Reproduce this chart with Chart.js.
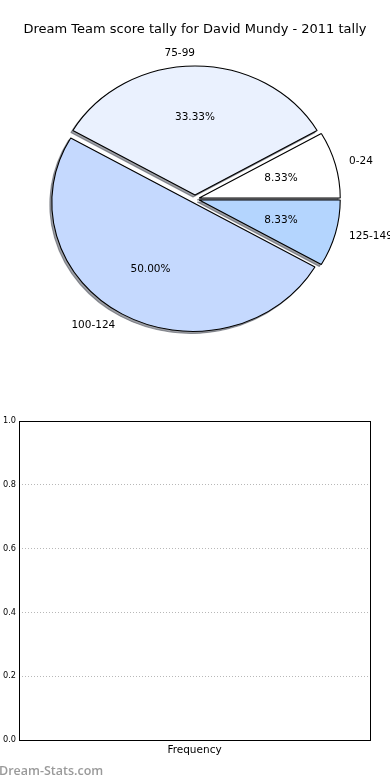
<!DOCTYPE html>
<html>
<head>
<meta charset="utf-8">
<script src="https://cdn.jsdelivr.net/npm/chart.js@4.4.0/dist/chart.umd.min.js"></script>
<style>
  html, body { margin: 0; padding: 0; background: #fff; }
  body { width: 390px; height: 780px; position: relative; overflow: hidden; }
  #pieBox { position: absolute; left: 0; top: 0; width: 390px; height: 400px; }
  #barBox { position: absolute; left: 0; top: 400px; width: 390px; height: 380px; }
  #mark { position: absolute; left: -1px; top: 762px; font-family: "Open Sans", sans-serif; font-weight: 600; font-size: 12.5px; color: #9a9a9a; }
</style>
</head>
<body>
<div id="pieBox"><canvas id="pie"></canvas></div>
<div id="barBox"><canvas id="bar"></canvas></div>
<div id="mark">Dream-Stats.com</div>
<script>
/* score ranges and how many games fell in each one */
var scoreRanges = ["0-24", "75-99", "100-124", "125-149"];
var scoreCounts = [1, 4, 6, 1];
var sliceColors = ["#ffffff", "#eaf1fe", "#c5d9fe", "#b4d5fe"];

/* the frequency plot underneath is empty */
var freqLabels = [];
var freqValues = [];
var freqTicks = [0, 0.2, 0.4, 0.6, 0.8, 1.0];

var FONT = "'DejaVu Sans', sans-serif";
var RX = 141, RY = 129;   // pie is stretched, axes were not square
var EXPLODE = 4;           // every slice pushed out a little
var SHADOW = "rgba(60,64,75,0.5)";

/* chart.js goes clockwise from the top, the original went anticlockwise from 3 o'clock */
var pieLabels = scoreRanges.slice().reverse();
var pieData = scoreCounts.slice().reverse();
var pieColors = sliceColors.slice().reverse();

function stretch(ctx, chart) {
    var a = chart.chartArea;
    var cx = (a.left + a.right) / 2, cy = (a.top + a.bottom) / 2;
    ctx.translate(cx, cy);
    ctx.scale(RX / RY, 1);
    ctx.translate(-cx, -cy);
}

/* percent inside, range name outside */
function drawPieLabels(chart) {
    var ctx = chart.ctx, a = chart.chartArea;
    var cx = (a.left + a.right) / 2;
    var sx = RX / RY;
    var total = pieData.reduce(function (s, v) { return s + v; }, 0);
    var arcs = chart.getDatasetMeta(0).data;
    ctx.save();
    ctx.fillStyle = "#000";
    ctx.font = "10.5px " + FONT;
    ctx.textBaseline = "middle";
    arcs.forEach(function (arc, i) {
        var mid = (arc.startAngle + arc.endAngle) / 2;
        var c = Math.cos(mid), s = Math.sin(mid);
        var r = arc.outerRadius;
        ctx.textAlign = c > 1e-6 ? "left" : "right";
        ctx.fillText(pieLabels[i], cx + (arc.x - cx + c * r * 1.1) * sx, arc.y + s * r * 1.1);
        ctx.textAlign = "center";
        ctx.fillText((pieData[i] / total * 100).toFixed(2) + "%", cx + (arc.x - cx + c * r * 0.6) * sx, arc.y + s * r * 0.6);
    });
    ctx.restore();
}

var piePlugin = {
    id: "explodedPie",
    afterDatasetsUpdate: function (chart) {
        chart.getDatasetMeta(0).data.forEach(function (arc) {
            var mid = (arc.startAngle + arc.endAngle) / 2;
            arc.x += Math.cos(mid) * EXPLODE;
            arc.y += Math.sin(mid) * EXPLODE;
        });
    },
    beforeDatasetsDraw: function (chart) {
        var ctx = chart.ctx;
        /* shadow pass: same wedges in flat grey, shifted down-left */
        ctx.save();
        ctx.translate(-2, 2);
        stretch(ctx, chart);
        chart.getDatasetMeta(0).data.forEach(function (arc) {
            var keep = arc.options;
            arc.options = Object.assign({}, keep, { backgroundColor: SHADOW, borderColor: SHADOW });
            arc.draw(ctx);
            arc.options = keep;
        });
        ctx.restore();
        ctx.save();
        stretch(ctx, chart);
    },
    afterDatasetsDraw: function (chart) {
        chart.ctx.restore();
        drawPieLabels(chart);
    }
};

new Chart(document.getElementById("pie"), {
    type: "pie",
    data: {
        labels: pieLabels,
        datasets: [{
            data: pieData,
            backgroundColor: pieColors,
            borderColor: "#000",
            borderWidth: 1
        }]
    },
    options: {
        responsive: true,
        maintainAspectRatio: false,
        animation: false,
        events: [],
        rotation: 90,
        radius: RY,
        layout: { padding: { top: 0, left: 0, right: 0, bottom: 69.6 } },
        plugins: {
            legend: { display: false },
            tooltip: { enabled: false },
            title: {
                display: true,
                text: "Dream Team score tally for David Mundy - 2011 tally",
                color: "#000",
                font: { family: FONT, size: 13, weight: "normal" },
                padding: { top: 22, bottom: 30 }
            }
        }
    },
    plugins: [piePlugin]
});

/* black box round the plot area */
var framePlugin = {
    id: "frame",
    afterDraw: function (chart) {
        var ctx = chart.ctx, a = chart.chartArea;
        ctx.save();
        ctx.strokeStyle = "#000";
        ctx.lineWidth = 1;
        ctx.strokeRect(a.left + 0.5, a.top + 0.5, a.right - a.left, a.bottom - a.top);
        ctx.restore();
    }
};

new Chart(document.getElementById("bar"), {
    type: "bar",
    data: {
        labels: freqLabels,
        datasets: [{ data: freqValues, backgroundColor: "#c5d9fe" }]
    },
    options: {
        responsive: true,
        maintainAspectRatio: false,
        animation: false,
        events: [],
        layout: { padding: { top: 21, right: 20, bottom: 0, left: 0 } },
        plugins: { legend: { display: false }, tooltip: { enabled: false } },
        scales: {
            x: {
                grid: { display: false },
                ticks: { display: false },
                border: { display: false },
                title: {
                    display: true,
                    text: "Frequency",
                    color: "#000",
                    font: { family: FONT, size: 10.5 },
                    padding: { top: 0, bottom: 23 }
                },
                afterFit: function (s) { s.height = 40; }
            },
            y: {
                min: freqTicks[0],
                max: freqTicks[freqTicks.length - 1],
                afterBuildTicks: function (s) {
                    s.ticks = freqTicks.map(function (v) { return { value: v }; });
                },
                ticks: {
                    color: "#000",
                    padding: 3,
                    font: { family: FONT, size: 8.2 },
                    callback: function (v) { return v.toFixed(1); }
                },
                grid: { color: "#b8b8b8", lineWidth: 1, drawTicks: false },
                border: { display: false, dash: [1, 2] },
                afterFit: function (s) { s.width = 19; }
            }
        }
    },
    plugins: [framePlugin]
});
</script>
</body>
</html>
